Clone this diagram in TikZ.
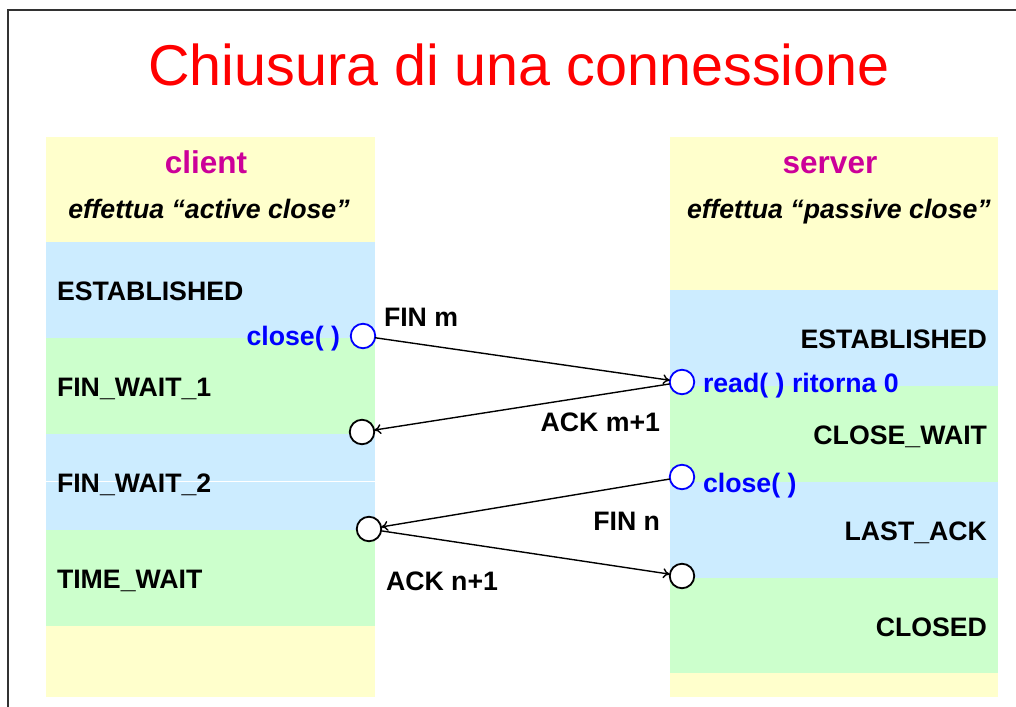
\documentclass[tikz,border=0pt]{standalone}
\usepackage{fontspec}
\setmainfont{Liberation Sans}
\usetikzlibrary{arrows.meta}
\definecolor{bandyellow}{RGB}{255,255,204}
\definecolor{bandblue}{RGB}{204,236,255}
\definecolor{bandgreen}{RGB}{204,255,204}
\definecolor{rolemagenta}{RGB}{204,0,153}
\definecolor{titlered}{RGB}{255,0,0}
\definecolor{framegray}{RGB}{50,50,50}
\begin{document}
\begin{tikzpicture}[x=1pt,y=-1pt,
  every node/.style={inner sep=0pt, outer sep=0pt},
  band/.style={fill=#1, draw=none},
  statelbl/.style={font=\fontsize{26.7}{30}\selectfont\bfseries},
  calllbl/.style={statelbl, text=blue},
  rolelbl/.style={font=\fontsize{31.5}{34}\selectfont\bfseries, text=rolemagenta},
  notelbl/.style={font=\fontsize{26.7}{30}\selectfont\bfseries\itshape},
  evt/.style={circle, draw=#1, line width=1.8pt, fill=white, minimum size=24.5pt},
  msgline/.style={line width=1.4pt, -{To[length=7pt,width=10pt]}}]
\useasboundingbox (0,0) rectangle (1016,706);
% slide frame
\draw[framegray, line width=2.2pt] (8,712) -- (8,10) -- (1022,10);
% title
\node[font=\fontsize{57.5}{60}\selectfont, text=titlered, anchor=base] (title) at (519,86) {Chiusura di una connessione};

% client timeline bands
\fill[band=bandyellow] (46,137) rectangle (375,242);
\fill[band=bandblue]   (46,242) rectangle (375,338);
\fill[band=bandgreen]  (46,338) rectangle (375,434);
\fill[band=bandblue]   (46,434) rectangle (375,530);
\draw[white, line width=0.6pt] (46,481) -- (375,481);
\fill[band=bandgreen]  (46,530) rectangle (375,626);
\fill[band=bandyellow] (46,626) rectangle (375,697);

% server timeline bands
\fill[band=bandyellow] (670,137) rectangle (998,290);
\fill[band=bandblue]   (670,290) rectangle (998,386);
\fill[band=bandgreen]  (670,386) rectangle (998,482);
\fill[band=bandblue]   (670,482) rectangle (998,578);
\fill[band=bandgreen]  (670,578) rectangle (998,673);
\fill[band=bandyellow] (670,673) rectangle (998,697);

% client labels
\node[rolelbl, anchor=base] (client) at (206,173) {client};
\node[notelbl, anchor=base] (cnote) at (209,218) {effettua “active close”};
\node[statelbl, anchor=base west] (cest) at (57,300) {ESTABLISHED};
\node[calllbl, anchor=base east] (cclose) at (340,345) {close( )};
\node[statelbl, anchor=base west] (cfw1) at (57,396) {FIN\_WAIT\_1};
\node[statelbl, anchor=base west] (cfw2) at (57,492) {FIN\_WAIT\_2};
\node[statelbl, anchor=base west] (ctw) at (57,588) {TIME\_WAIT};

% server labels
\node[rolelbl, anchor=base] (server) at (830,173) {server};
\node[notelbl, anchor=base] (snote) at (839,218) {effettua “passive close”};
\node[statelbl, anchor=base east] (sest) at (987,348) {ESTABLISHED};
\node[calllbl, anchor=base west] (sread) at (703,392) {read( ) ritorna 0};
\node[statelbl, anchor=base east] (scw) at (987,444) {CLOSE\_WAIT};
\node[calllbl, anchor=base west] (sclose) at (703,492) {close( )};
\node[statelbl, anchor=base east] (sla) at (987,540) {LAST\_ACK};
\node[statelbl, anchor=base east] (scl) at (987,636) {CLOSED};

% events
\node[evt=blue]  (c1) at (363,336) {};
\node[evt=black] (c2) at (362,432) {};
\node[evt=black] (c3) at (369,529) {};
\node[evt=blue]  (s1) at (682,382) {};
\node[evt=blue]  (s2) at (682,477) {};
\node[evt=black] (s3) at (682,576) {};

% segments exchanged
\draw[msgline] (c1) -- (s1);
\draw[msgline] (s1) -- (c2);
\draw[msgline] (s2) -- (c3);
\draw[msgline] (c3) -- (s3);

\node[statelbl, anchor=base west] (finm) at (384,326) {FIN m};
\node[statelbl, anchor=base east] (ackm) at (660,431) {ACK m+1};
\node[statelbl, anchor=base east] (finn) at (660,530) {FIN n};
\node[statelbl, anchor=base west] (ackn) at (386,590) {ACK n+1};
\end{tikzpicture}
\end{document}
